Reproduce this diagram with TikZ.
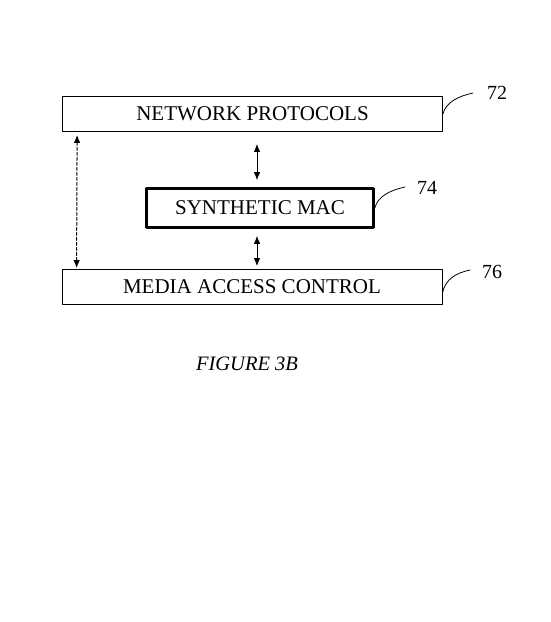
\documentclass[tikz,border=0pt]{standalone}
\usepackage{fontspec}
\setmainfont{Liberation Serif}
\usetikzlibrary{arrows.meta}

\tikzset{
  layer/.style={draw,line width=0.8pt,minimum width=380pt,minimum height=35pt,inner sep=0pt,
    font=\fontsize{21}{24}\selectfont},
  shim/.style={draw,line width=2.6pt,minimum width=227pt,minimum height=39pt,inner sep=0pt,
    font=\fontsize{21}{24}\selectfont},
  refnum/.style={font=\fontsize{20}{24}\selectfont,inner sep=0pt},
  dbl/.style={{Latex[length=8pt,width=6.5pt]}-{Latex[length=8pt,width=6.5pt]},line width=1pt}
}

\begin{document}
\begin{tikzpicture}[x=1pt,y=-1pt,line width=0.8pt,line cap=round,line join=round]
\useasboundingbox (0,0) rectangle (551,622);
% the three layers
\node[layer] (proto) at (252.5,114) {NETWORK PROTOCOLS};
\node[shim] (mac) at (260,208) {SYNTHETIC MAC};
\node[layer] (medium) at (252,287) {MEDIA ACCESS CONTROL};
% arrows between layers
\draw[dbl,shorten <=12pt,shorten >=7pt] ([xshift=-3pt]proto.south -| mac.north) -- ([xshift=-3pt]mac.north);
\draw[dbl,shorten <=7pt,shorten >=3pt] ([xshift=-3pt]mac.south) -- ([xshift=-3pt]medium.north -| mac.south);
\draw[dbl,dash pattern=on 3pt off 2pt,shorten <=3pt,shorten >=1pt] ([xshift=15pt]proto.south west) -- ([xshift=15pt]medium.north west);
% reference numbers
\node[refnum] (n72) at (497,93) {72};
\node[refnum] (n74) at (427,188) {74};
\node[refnum] (n76) at (492,272) {76};
\coordinate (t72) at (473,93);
\coordinate (t74) at (405,187);
\coordinate (t76) at (470,270);
\draw (proto.east) .. controls +(3,-12) and +(-14,3) .. (t72);
\draw (mac.east) .. controls +(3,-12) and +(-14,3) .. (t74);
\draw ([yshift=-6pt]medium.east) .. controls +(3,-14) and +(-14,3) .. (t76);
% caption
\node[font=\fontsize{20.5}{24}\selectfont\itshape] (cap) at (247,364) {FIGURE 3B};
\end{tikzpicture}
\end{document}
